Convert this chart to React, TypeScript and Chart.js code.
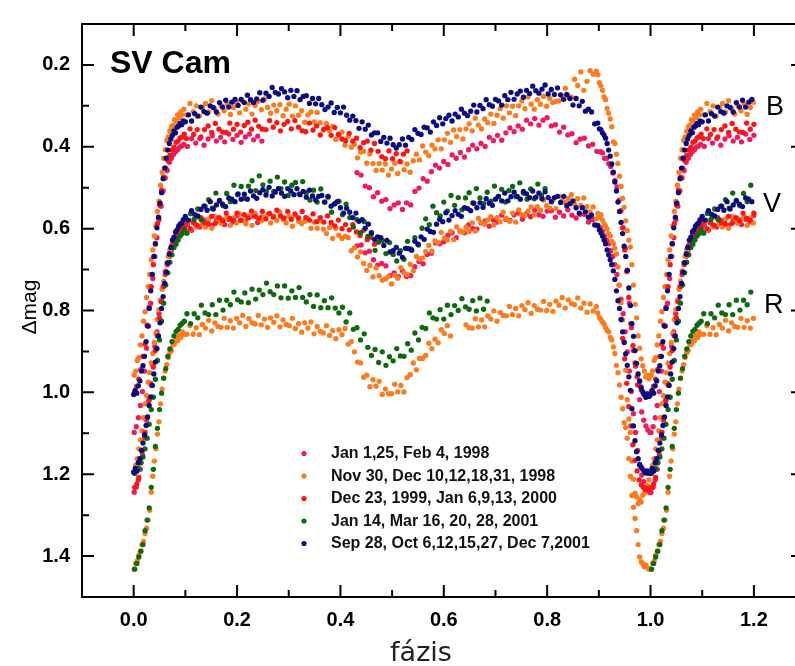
import React, { useEffect, useRef } from 'react';
import { Chart, registerables } from 'chart.js';

Chart.register(...registerables);

// ---------------- Series labels and colours ----------------
const seriesLabels = [
  'Jan 1,25, Feb 4, 1998',
  'Nov 30, Dec 10,12,18,31, 1998',
  'Dec 23, 1999, Jan 6,9,13, 2000',
  'Jan 14, Mar 16, 20, 28, 2001',
  'Sep 28, Oct 6,12,15,27, Dec 7,2001',
];
const seriesColors = ['#ee1c5c', '#ff7a1a', '#ff1414', '#0e6a0e', '#0a0a84'];
const bandLabels = ['B', 'V', 'R'];

// ---------------- Axis ticks ----------------
const xTicks = [0, 0.2, 0.4, 0.6, 0.8, 1.0, 1.2];
const xMinorTicks = [0.1, 0.3, 0.5, 0.7, 0.9, 1.1];
const yTicks = [0.2, 0.4, 0.6, 0.8, 1.0, 1.2, 1.4];
const yMinorTicks = [0.3, 0.5, 0.7, 0.9, 1.1, 1.3];

// ---------------- Jan 1,25, Feb 4, 1998 (pink) ----------------
const pinkPhase = [
  .001,.005,.009,.013,.017,.021,.025,.029,.033,.037,.041,.045,.049,.053,.057,.061,.065,.069,.073,.077,.081,.085,.089,.093,.097,
  .104,.112,.12,.128,.136,.144,.152,.16,.168,.176,.184,.192,.2,.208,.216,.224,.232,.24,.248,
  .432,.44,.448,.456,.464,.472,.48,.488,.496,.504,.512,.52,.528,.536,.544,.552,.56,.568,.576,.584,.592,.6,.608,.616,.624,.632,.64,.648,.656,.664,.672,.68,.688,.696,.704,.712,.72,.728,.736,.744,.752,.76,.768,.776,.784,.792,.8,.808,.816,.824,.832,.84,.848,.856,.864,.872,.88,.888,.896,
  .903,.907,.911,.915,.919,.923,.927,.931,.935,.939,.943,.947,.951,.955,.959,.963,.967,.971,.975,.979,.983,.987,.991,.995,.999,
];
const pinkB = [
  1.098,1.084,1.062,1.032,.998,.948,.892,.838,.782,.722,.668,.622,.578,.545,.508,.476,.458,.438,.428,.419,.412,.407,.401,.398,.394,
  .399,.380,.391,.380,.396,.381,.373,.386,.377,.388,.369,.382,.372,.389,.376,.369,.383,.374,.386,
  .463,.469,.496,.500,.522,.512,.533,.529,.551,.542,.537,.553,.537,.542,.509,.501,.478,.484,.461,.445,.452,.436,.443,.420,.428,.414,.425,.407,.396,.405,.392,.399,.377,.385,.372,.384,.366,.354,.363,.349,.357,.335,.344,.331,.347,.335,.329,.349,.346,.364,.352,.371,.368,.390,.381,.379,.398,.394,.411,
  .412,.415,.428,.428,.441,.448,.464,.482,.498,.531,.556,.598,.648,.702,.782,.842,.898,.936,.982,1.018,1.048,1.068,1.082,1.092,1.098,
];
const pinkV = [
  1.244,1.232,1.214,1.188,1.152,1.112,1.068,1.022,.978,.932,.888,.852,.808,.778,.742,.712,.688,.668,.652,.638,.628,.618,.612,.605,.601,
  .590,.604,.590,.596,.579,.589,.592,.579,.576,.590,.577,.584,.568,.580,.584,.572,.569,.585,.572,
  .642,.640,.659,.655,.676,.689,.685,.691,.715,.708,.717,.703,.717,.715,.693,.680,.686,.663,.660,.635,.637,.632,.616,.610,.622,.606,.610,.591,.600,.601,.586,.581,.594,.579,.584,.567,.577,.580,.566,.562,.577,.564,.571,.555,.566,.570,.557,.556,.572,.560,.569,.554,.567,.574,.565,.565,.584,.578,.592,
  .598,.606,.618,.628,.637,.654,.668,.688,.712,.738,.772,.808,.852,.901,.948,.998,1.052,1.098,1.142,1.178,1.202,1.218,1.232,1.241,1.245,
];

// ---------------- Nov 30, Dec 10,12,18,31, 1998 (orange) ----------------
const orangePhase = [
  .001,.004,.007,.01,.013,.016,.019,.022,.025,.028,.031,.034,.037,.04,.043,.046,.049,.052,.055,.058,.061,.064,.067,.07,.073,.076,.079,.082,.085,.088,.091,.094,.097,
  .103,.109,.115,.121,.127,.133,.139,.145,.151,.157,.163,.169,.175,.181,.187,.193,.199,.205,.211,.217,.223,.229,.235,.241,.247,.253,.259,.265,.271,.277,.283,.289,.295,.301,.307,.313,.319,.325,.331,.337,.343,.349,.355,.361,.367,.373,.379,.385,.391,.397,.403,.409,.415,.421,.427,.433,.439,.445,.451,.457,.463,.469,.475,.481,.487,.493,.499,.505,.511,.517,.523,.529,.535,.541,.547,.553,.559,.565,.571,.577,.583,.589,.595,.601,.607,.613,.619,.625,.631,.637,.643,.649,.655,.661,.667,.673,.679,.685,.691,.697,.703,.709,.715,.721,.727,.733,.739,.745,.751,.757,.763,.769,.775,.781,.787,.793,.799,.805,.811,.817,.823,.829,.835,.841,.847,.853,.859,.865,.871,.877,.883,.889,.895,
  .898,.901,.904,.907,.91,.913,.916,.919,.922,.925,.928,.931,.934,.937,.94,.943,.946,.949,.952,.955,.958,.961,.964,.967,.97,.973,.976,.979,.982,.985,.988,.991,.994,.997,
];
const orangeB = [
  .958,.948,.922,.915,.884,.862,.826,.803,.768,.742,.712,.676,.652,.618,.593,.558,.533,.494,.462,.428,.407,.384,.376,.362,.351,.348,.334,.338,.322,.329,.315,.322,.308,
  .322,.294,.314,.300,.325,.304,.294,.315,.287,.307,.320,.299,.312,.295,.321,.304,.291,.317,.289,.308,
  .295,.320,.299,.289,.309,.283,.304,.318,.298,.312,.297,.324,.308,.296,.325,.300,.323,.312,.340,.322,
  .315,.339,.316,.341,.359,.343,.361,.350,.382,.371,.364,.396,.375,.401,.394,.427,.413,.411,.440,.417,
  .441,.458,.441,.457,.442,.469,.454,.440,.465,.437,.456,.442,.462,.434,.418,.432,.398,.413,.422,.396,
  .405,.383,.405,.383,.367,.389,.359,.375,.358,.381,.356,.344,.361,.330,.347,.356,.332,.341,.320,.343,
  .323,.307,.330,.300,.317,.301,.324,.300,.288,.307,.278,.296,.308,.285,.296,.277,.301,.282,.292,.289,
  .288,.276,.257,.277,.279,.235,.250,.217,.262,.240,.214,.223,.215,
  .224,.243,.251,.262,.278,.285,.306,.318,.332,.351,.388,.392,.418,.441,.472,.497,.526,.548,.581,.605,.628,.645,.688,.738,.785,.818,.862,.892,.918,.935,.948,.962,.958,.967,
];
const orangeV = [
  1.196,1.178,1.162,1.138,1.116,1.094,1.062,1.028,1.008,.975,.952,.928,.905,.878,.856,.822,.798,.775,.748,.728,.703,.684,.668,.652,.647,.632,.628,.617,.615,.604,.609,.597,.599,
  .583,.603,.585,.596,.573,.589,.596,.577,.599,.570,.583,.587,.578,.571,.592,.574,.586,.564,.580,.588,
  .569,.592,.563,.576,.581,.572,.565,.586,.569,.580,.559,.577,.586,.570,.594,.568,.582,.588,.582,.576,
  .599,.584,.599,.580,.601,.612,.597,.624,.599,.616,.624,.619,.622,.654,.647,.669,.657,.685,.702,.690,
  .718,.696,.715,.726,.723,.717,.735,.714,.721,.695,.708,.712,.687,.703,.668,.674,.672,.656,.641,.655,
  .630,.634,.609,.623,.628,.607,.627,.596,.606,.608,.597,.607,.586,.606,.575,.585,.589,.579,.571,.591,
  .573,.583,.560,.575,.582,.562,.584,.554,.566,.568,.557,.547,.566,.546,.555,.530,.544,.550,.530,.551,
  .521,.532,.536,.526,.517,.540,.527,.543,.525,.546,.559,.547,.576,
  .563,.571,.566,.579,.588,.594,.601,.612,.618,.631,.636,.648,.662,.694,.738,.781,.823,.876,.946,1.018,1.065,1.098,1.168,1.212,1.246,1.255,1.272,1.262,1.268,1.251,1.246,1.232,1.228,1.214,
];
const orangeR = [
  1.432,1.418,1.412,1.398,1.388,1.372,1.364,1.345,1.332,1.312,1.288,1.244,1.205,1.168,1.138,1.102,1.072,1.028,.992,.966,.948,.932,.915,.903,.898,.884,.881,.872,.874,.861,.866,.852,.858,
  .858,.837,.858,.842,.859,.834,.843,.824,.850,.830,.839,.841,.819,.841,.825,.843,.819,.830,.812,.839,
  .820,.830,.833,.812,.835,.821,.841,.818,.829,.813,.840,.823,.834,.837,.819,.844,.832,.853,.830,.843,
  .828,.857,.839,.851,.855,.837,.861,.849,.869,.847,.859,.844,.882,.876,.901,.926,.928,.963,.958,.986,
  .969,.985,.973,1.005,.992,1.003,1.003,.980,.999,.983,.999,.964,.957,.928,.945,.917,.917,.910,.880,.893,
  .870,.879,.847,.856,.837,.862,null,null,null,null,.835,.842,.843,.820,.840,.823,.840,.813,.821,.801,
  .826,.805,.812,.813,.790,.810,.795,.813,.788,.798,.781,.807,.788,.797,.799,.778,.800,.785,.802,.777,
  .787,.768,.794,.774,.783,.786,.769,.794,.782,.804,.784,.801,.790,
  .806,.817,.822,.828,.833,.842,.848,.852,.866,.872,.889,.905,.934,.952,.982,1.012,1.040,1.074,1.086,1.112,1.162,1.205,1.252,1.281,1.308,1.338,1.372,1.402,1.414,1.418,1.426,1.422,1.428,1.432,
];

// ---------------- Dec 23, 1999, Jan 6,9,13, 2000 (red) ----------------
const redPhase = [
  .002,.006,.01,.014,.018,.022,.026,.03,.034,.038,.042,.046,.05,.054,.058,.062,.066,.07,.074,.078,.082,.086,.09,.094,.098,
  .102,.109,.116,.123,.13,.137,.144,.151,.158,.165,.172,.179,.186,.193,.2,.207,.214,.221,.228,.235,.242,.249,.256,.263,.27,.277,.284,.291,.298,.305,.312,.319,.326,.333,.34,.347,.354,.361,.368,.375,.382,.389,.396,.403,.41,.417,.424,.431,.438,.445,.452,.459,.466,.473,.48,.487,.494,.501,.508,.515,.522,.529,
  .946,.95,.954,.958,.962,.966,.97,.974,.978,.982,.986,.99,.994,.998,
];
const redB = [
  .998,.985,.968,.944,.912,.882,.836,.792,.742,.688,.638,.588,.542,.506,.474,.452,.433,.421,.408,.401,.389,.386,.378,.376,.369,
  .380,.356,.370,.358,.376,.358,.349,.365,.343,.357,.364,.365,.342,.357,.345,.364,.348,.340,.357,.335,
  .350,.357,.358,.336,.352,.341,.361,.345,.338,.356,.336,.352,.361,.363,.342,.359,.349,.371,.357,.353,
  .372,.353,.370,.381,.385,.367,.386,.379,.402,.390,.386,.408,.392,.411,.424,.429,.410,.429,.417,.436,.418,.410,
  .598,.652,.705,.768,.832,.886,.928,.962,.982,.994,1.002,1.006,1.004,1.008,
];
const redV = [
  1.232,1.224,1.208,1.172,1.141,1.098,1.062,1.018,.982,.938,.898,.862,.818,.778,.741,.708,.683,.662,.641,.632,.618,.614,.603,.601,.594,
  .583,.600,.585,.592,.573,.585,.588,.570,.587,.573,.581,.562,.575,.579,.562,.579,.566,.574,.557,.570,
  .575,.558,.576,.563,.572,.555,.569,.574,.558,.577,.564,.574,.558,.573,.579,.564,.583,.573,.584,.569,
  .585,.593,.579,.600,.590,.603,.590,.608,.617,.604,.627,.621,.638,null,null,null,null,null,null,null,null,null,
  .868,.918,.978,1.035,1.082,1.128,1.166,1.192,1.214,1.226,1.232,1.238,1.234,1.236,
];

// ---------------- Jan 14, Mar 16, 20, 28, 2001 (green) ----------------
const greenPhase = [
  .002,.006,.01,.014,.018,.022,.026,.03,.034,.038,.042,.046,.05,.054,.058,.062,.066,.07,.074,.078,.082,.086,.09,.094,.098,
  .103,.11,.117,.124,.131,.138,.145,.152,.159,.166,.173,.18,.187,.194,.201,.208,.215,.222,.229,.236,.243,.25,.257,.264,.271,.278,.285,.292,.299,.306,.313,.32,.327,.334,.341,.348,.355,.362,.369,.376,.383,.39,.397,.404,.411,.418,.425,.432,.439,.446,.453,.46,.467,.474,.481,.488,.495,.502,.509,.516,.523,.53,.537,.544,.551,.558,.565,.572,.579,.586,.593,.6,.607,.614,.621,.628,.635,.642,.649,.656,.663,.67,.677,.684,.691,.698,.705,.712,.719,.726,.733,.74,.747,.754,.761,.768,.775,.782,.789,.796,
];
const greenV = [
  1.198,1.192,1.186,1.172,1.158,1.138,1.112,1.078,1.042,1.012,.968,.922,.872,.826,.782,.738,.708,.682,.664,.646,.638,.628,.618,.612,.602,
  .611,.563,.577,.552,.578,.545,.529,.550,.513,.533,.544,.514,.534,.494,.517,.497,.526,.496,.483,.507,
  .471,.493,.509,.484,.509,.474,.502,.486,.519,.494,.487,.515,.485,.512,.530,.506,.535,.503,.535,.523,
  .560,.538,.533,.566,.540,.573,.596,.578,.610,.583,.619,.612,.653,.633,.629,.661,.634,.663,.679,.654,
  .675,.631,.650,.622,.640,.599,.576,.590,.545,.561,.569,.535,.557,.519,.543,.524,.554,.525,.512,.537,
  .502,.525,.539,.511,.533,.496,.522,.504,.535,.507,.497,.522,.488,.513,.528,.503,.527,.491,.519,.502,
];
const greenR = [
  1.432,1.418,1.402,1.388,1.372,1.338,1.312,1.282,1.232,1.188,1.132,1.088,1.042,1.002,.965,.942,.912,.894,.876,.862,.851,.846,.836,.831,.826,
  .808,.832,.808,.818,.787,.806,.810,.786,.810,.775,.799,.775,.786,.755,.774,.779,.757,.781,.748,.772,
  .750,.761,.733,.754,.761,.740,.769,.740,.770,.752,.768,.744,.768,.779,.761,.790,.762,.793,.776,.793,
  .769,.794,.806,.792,.828,.806,.846,.842,.872,.857,.890,.910,.895,.927,.901,.934,.913,.923,.893,.911,
  .912,.881,.897,.855,.872,.841,.844,.806,.818,.821,.798,.821,.787,.810,.788,.800,.771,.791,.797,.776,
  .801,.770,.797,.777,null,null,null,null,null,null,null,null,null,null,null,null,null,null,null,null,
];

// ---------------- Sep 28, Oct 6,12,15,27, Dec 7,2001 (navy) ----------------
const navyPhase = [
  0,.003,.006,.009,.012,.015,.018,.021,.024,.027,.03,.033,.036,.039,.042,.045,.048,.051,.054,.057,.06,.063,.066,.069,.072,.075,.078,.081,.084,.087,.09,.093,.096,
  .1,.106,.112,.118,.124,.13,.136,.142,.148,.154,.16,.166,.172,.178,.184,.19,.196,.202,.208,.214,.22,.226,.232,.238,.244,.25,.256,.262,.268,.274,.28,.286,.292,.298,.304,.31,.316,.322,.328,.334,.34,.346,.352,.358,.364,.37,.376,.382,.388,.394,.4,.406,.412,.418,.424,.43,.436,.442,.448,.454,.46,.466,.472,.478,.484,.49,.496,.502,.508,.514,.52,.526,.532,.538,.544,.55,.556,.562,.568,.574,.58,.586,.592,.598,.604,.61,.616,.622,.628,.634,.64,.646,.652,.658,.664,.67,.676,.682,.688,.694,.7,.706,.712,.718,.724,.73,.736,.742,.748,.754,.76,.766,.772,.778,.784,.79,.796,.802,.808,.814,.82,.826,.832,.838,.844,.85,.856,.862,.868,.874,.88,.886,.892,.898,
  .901,.904,.907,.91,.913,.916,.919,.922,.925,.928,.931,.934,.937,.94,.943,.946,.949,.952,.955,.958,.961,.964,.967,.97,.973,.976,.979,.982,.985,.988,.991,.994,.997,
];
const navyB = [
  1.005,.995,1.002,.984,.972,.948,.935,.912,.876,.838,.795,.752,.712,.668,.636,.598,.572,.538,.512,.478,.452,.428,.408,.392,.381,.372,.361,.366,.352,.349,.343,.346,.337,
  .339,.322,.337,.319,.325,.303,.314,.318,.300,.304,.315,.292,.303,.286,.303,.291,.284,.299,.284,.292,
  .274,.285,.292,.283,.268,.286,.269,.277,.255,.267,.271,.258,.266,.280,.262,.277,.263,.285,.277,.275,
  .294,.282,.295,.282,.297,.309,.303,.293,.316,.304,.317,.303,.323,.335,.325,.336,.355,.339,.357,.347,
  .371,.366,.366,.387,.377,.391,.379,.395,.403,.395,.381,.396,.377,.382,.358,.367,.370,.352,.354,.364,
  .339,.348,.329,.344,.331,.323,.337,.320,.327,.308,.318,.324,.313,.298,.315,.299,.307,.285,.297,.301,
  .284,.288,.298,.275,.285,.267,.284,.271,.264,.279,.262,.270,.252,.263,.269,.259,.249,.271,.260,.272,
  .256,.273,.284,.272,.282,.298,.282,.300,.289,.313,.308,.315,.344,.342,
  .356,.358,.366,.371,.379,.392,.408,.423,.442,.462,.486,.508,.535,.558,.585,.612,.643,.668,.702,.745,.788,.832,.863,.898,.929,.955,.972,.988,.998,1.006,1.012,1.004,1.010,
];
const navyV = [
  1.195,1.186,1.192,1.172,1.162,1.142,1.124,1.104,1.081,1.060,1.032,1.011,.983,.955,.926,.893,.862,.830,.795,.766,.734,.706,.684,.662,.646,.628,.621,.608,.603,.594,.589,.586,.578,
  .570,.579,.556,.565,.569,.553,.545,.555,.534,.552,.542,.531,.540,.546,.525,.528,.534,.515,.528,.516,
  .528,.508,.520,.526,.512,.505,.518,.499,.520,.511,.502,.513,.521,.502,.508,.517,.502,.517,.509,.523,
  .506,.520,.530,.521,.519,.535,.521,.545,.540,.534,.549,.562,.550,.560,.573,.562,.582,.578,.599,.589,
  .610,.626,.620,.622,.641,.629,.657,.654,.646,.660,.670,.648,.649,.653,.631,.638,.620,.626,.601,.607,
  .609,.589,.577,.583,.561,.579,.568,.556,.565,.570,.549,.551,.556,.538,.549,.537,.548,.527,.538,.543,
  .528,.521,.532,.513,.532,.522,.511,.521,.528,.509,.515,.524,.508,.523,.513,.527,.510,.524,.534,.524,
  .521,.536,.521,.544,.539,.532,.549,.562,.549,.559,.572,.567,.591,.592,
  .603,.610,.618,.628,.637,.652,.664,.676,.688,.703,.724,.752,.776,.795,.822,.852,.878,.906,.934,.962,.995,1.040,1.082,1.118,1.145,1.162,1.176,1.183,1.188,1.193,1.197,1.192,1.198,
];

// Light-curve points: every observation is plotted at its phase, and the
// ones with phase <= 0.2 are repeated one cycle later (phase + 1).
function foldPoints(phase: number[], bands: (number | null)[][]) {
  const pts: { x: number; y: number }[] = [];
  for (const band of bands) {
    for (let i = 0; i < phase.length; i++) {
      const m = band[i];
      if (m === null || m === undefined) continue;
      pts.push({ x: phase[i], y: m });
      if (phase[i] <= 0.2) pts.push({ x: phase[i] + 1, y: m });
    }
  }
  return pts;
}

const FONT = '"Liberation Sans", Arial, Helvetica, sans-serif';

const decorPlugin = {
  id: 'decor',
  afterDraw(chart: any) {
    const { ctx, chartArea: a, scales } = chart;
    const xs = scales.x;
    const ys = scales.y;
    ctx.save();
    ctx.strokeStyle = '#000';
    ctx.lineWidth = 2;
    ctx.strokeRect(a.left, a.top, a.right - a.left, a.bottom - a.top);
    ctx.beginPath();
    const xt = (v: number, len: number) => {
      const p = xs.getPixelForValue(v);
      ctx.moveTo(p, a.bottom); ctx.lineTo(p, a.bottom - len);
      ctx.moveTo(p, a.top); ctx.lineTo(p, a.top + len);
    };
    const yt = (v: number, len: number) => {
      const p = ys.getPixelForValue(v);
      ctx.moveTo(a.left, p); ctx.lineTo(a.left + len, p);
      ctx.moveTo(a.right, p); ctx.lineTo(a.right - len, p);
    };
    xTicks.forEach((v) => xt(v, 12));
    xMinorTicks.forEach((v) => xt(v, 7));
    yTicks.forEach((v) => yt(v, 12));
    yMinorTicks.forEach((v) => yt(v, 7));
    ctx.stroke();

    ctx.fillStyle = '#000';
    // title inside plot
    ctx.font = `bold 32px ${FONT}`;
    ctx.textAlign = 'left';
    ctx.textBaseline = 'alphabetic';
    ctx.fillText('SV Cam', 110, 73);

    // band labels
    ctx.font = `27px ${FONT}`;
    ctx.fillText(bandLabels[0], 766, 115);
    ctx.fillText(bandLabels[1], 763, 212);
    ctx.fillText(bandLabels[2], 764, 313);

    // legend
    const rows = [453.5, 476, 498.5, 521, 543.5];
    ctx.font = `bold 16px ${FONT}`;
    ctx.textBaseline = 'middle';
    seriesLabels.forEach((lab, i) => {
      ctx.fillStyle = seriesColors[i];
      ctx.beginPath();
      ctx.arc(304, rows[i], 2.6, 0, Math.PI * 2);
      ctx.fill();
      ctx.fillStyle = '#111';
      ctx.fillText(lab, 331, rows[i] + 0.5);
    });

    // axis titles
    ctx.fillStyle = '#000';
    ctx.font = `21px ${FONT}`;
    ctx.save();
    ctx.translate(30, 307);
    ctx.rotate(-Math.PI / 2);
    ctx.textAlign = 'center';
    ctx.textBaseline = 'middle';
    ctx.fillText('\u0394mag', 0, 0);
    ctx.restore();

    ctx.font = `27px "DejaVu Sans", sans-serif`;
    ctx.fillStyle = '#222';
    ctx.textAlign = 'center';
    ctx.textBaseline = 'alphabetic';
    ctx.fillText('fázis', 421, 661);
    ctx.restore();
  },
};

export default function App() {
  const ref = useRef<HTMLCanvasElement | null>(null);
  useEffect(() => {
    if (!ref.current) return;
    const sets = [
      foldPoints(pinkPhase, [pinkB, pinkV]),
      foldPoints(orangePhase, [orangeB, orangeV, orangeR]),
      foldPoints(redPhase, [redB, redV]),
      foldPoints(greenPhase, [greenV, greenR]),
      foldPoints(navyPhase, [navyB, navyV]),
    ];
    const drawOrder = [4, 3, 2, 1, 0];
    const chart = new Chart(ref.current, {
      type: 'scatter',
      data: {
        datasets: sets.map((d, i) => ({
          label: seriesLabels[i],
          data: d,
          backgroundColor: seriesColors[i],
          borderWidth: 0,
          pointRadius: 2.65,
          pointHoverRadius: 2.65,
          order: drawOrder[i],
        })),
      },
      plugins: [decorPlugin],
      options: {
        responsive: false,
        animation: false,
        devicePixelRatio: 1,
        events: [],
        layout: { padding: { top: 14, right: 7, left: 0, bottom: 0 } },
        plugins: { legend: { display: false }, tooltip: { enabled: false } },
        scales: {
          x: {
            type: 'linear',
            min: -0.1,
            max: 1.295,
            grid: { display: false, drawTicks: false },
            border: { display: false },
            afterBuildTicks: (s: any) => { s.ticks = xTicks.map((v) => ({ value: v })); },
            afterFit: (s: any) => { s.height = 69; },
            ticks: {
              autoSkip: false,
              maxRotation: 0,
              padding: 11,
              color: '#000',
              font: { family: FONT, size: 20, weight: 'bold' },
              callback: (v: any) => Number(v).toFixed(1),
            },
          },
          y: {
            type: 'linear',
            reverse: true,
            min: 0.1,
            max: 1.5,
            grid: { display: false, drawTicks: false },
            border: { display: false },
            afterBuildTicks: (s: any) => { s.ticks = yTicks.map((v) => ({ value: v })); },
            afterFit: (s: any) => { s.width = 82; },
            ticks: {
              autoSkip: false,
              padding: 12,
              color: '#000',
              font: { family: FONT, size: 20, weight: 'bold' },
              callback: (v: any) => Number(v).toFixed(1),
            },
          },
        },
      } as any,
    });
    return () => chart.destroy();
  }, []);
  return (
    <div style={{ position: 'absolute', left: 0, top: 0, width: 795, height: 666, overflow: 'hidden', background: '#fff' }}>
      <canvas ref={ref} width={810} height={666} style={{ display: 'block' }} />
    </div>
  );
}
